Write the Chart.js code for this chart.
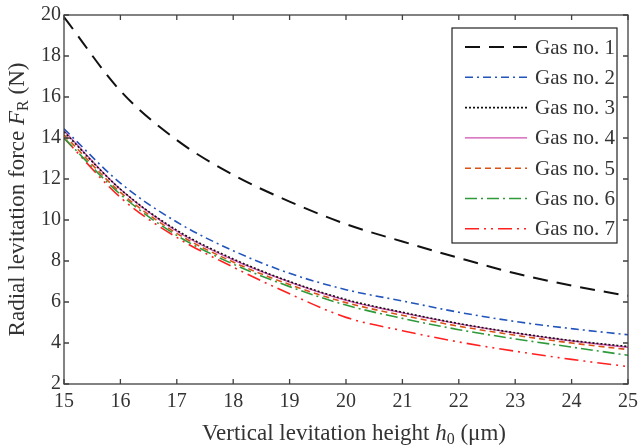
<!DOCTYPE html>
<html>
<head>
<meta charset="utf-8">
<script src="https://cdn.jsdelivr.net/npm/chart.js@4"></script>
<style>
  body { margin: 0; background: #fff; }
  #wrap { width: 644px; height: 447px; }
</style>
</head>
<body>
<div id="wrap"><canvas id="grafico" width="644" height="447"></canvas></div>
<script>
// valores
const alturas = [15, 16, 17, 18, 19, 20, 21, 22, 23, 24, 25];
const gas1 = [19.9, 16.3, 13.9, 12.2, 10.9, 9.8, 8.95, 8.15, 7.4, 6.8, 6.3];
const gas2 = [14.45, 11.8, 9.9, 8.5, 7.4, 6.6, 6.05, 5.5, 5.05, 4.7, 4.4];
const gas3 = [14.3, 11.5, 9.5, 8.1, 7.0, 6.12, 5.5, 4.95, 4.5, 4.12, 3.83];
const gas4 = [14.35, 11.5, 9.45, 8.05, 6.97, 6.08, 5.47, 4.93, 4.48, 4.1, 3.79];
const gas5 = [14.15, 11.35, 9.35, 7.95, 6.85, 5.97, 5.35, 4.82, 4.38, 4.0, 3.68];
const gas6 = [14.0, 11.25, 9.25, 7.85, 6.75, 5.85, 5.2, 4.65, 4.2, 3.8, 3.4];
const gas7 = [14.0, 11.1, 9.15, 7.7, 6.4, 5.25, 4.6, 4.05, 3.6, 3.2, 2.85];
const nomes = ["Gas no. 1", "Gas no. 2", "Gas no. 3", "Gas no. 4", "Gas no. 5", "Gas no. 6", "Gas no. 7"];

const fonte = '"Liberation Serif", "DejaVu Serif", serif';
const corTexto = '#333';
const corEixo = '#404040';

function pontos(valores) {
  return valores.map((v, i) => ({ x: alturas[i], y: v }));
}

function serie(nome, valores, cor, traco, largura) {
  return {
    label: nome,
    data: pontos(valores),
    borderColor: cor,
    borderDash: traco,
    borderWidth: largura,
    pointRadius: 0,
    fill: false,
    cubicInterpolationMode: 'monotone'
  };
}

// moldura, ticks internos, legenda e títulos dos eixos
const estiloMatlab = {
  id: 'estiloMatlab',
  afterDraw(chart) {
    const ctx = chart.ctx;
    const area = chart.chartArea;
    const sx = chart.scales.x;
    const sy = chart.scales.y;
    ctx.save();
    ctx.strokeStyle = corEixo;
    ctx.lineWidth = 1.3;
    ctx.setLineDash([]);
    ctx.strokeRect(area.left, area.top, area.right - area.left, area.bottom - area.top);
    ctx.beginPath();
    sx.ticks.forEach(t => {
      const px = sx.getPixelForValue(t.value);
      ctx.moveTo(px, area.bottom); ctx.lineTo(px, area.bottom - 5);
      ctx.moveTo(px, area.top); ctx.lineTo(px, area.top + 5);
    });
    sy.ticks.forEach(t => {
      const py = sy.getPixelForValue(t.value);
      ctx.moveTo(area.left, py); ctx.lineTo(area.left + 5, py);
      ctx.moveTo(area.right, py); ctx.lineTo(area.right - 5, py);
    });
    ctx.stroke();

    // legenda
    const lx = 452, ly = 28, lw = 165, lh = 215;
    ctx.fillStyle = '#fff';
    ctx.fillRect(lx, ly, lw, lh);
    ctx.strokeStyle = '#222';
    ctx.lineWidth = 1.2;
    ctx.strokeRect(lx, ly, lw, lh);
    ctx.font = '21px ' + fonte;
    ctx.textBaseline = 'middle';
    ctx.textAlign = 'left';
    chart.data.datasets.forEach((ds, i) => {
      const y = 47 + i * 30.3;
      ctx.strokeStyle = ds.borderColor;
      ctx.lineWidth = ds.borderWidth;
      ctx.setLineDash(ds.borderDash);
      ctx.beginPath();
      ctx.moveTo(465, y); ctx.lineTo(527, y);
      ctx.stroke();
      ctx.setLineDash([]);
      ctx.fillStyle = corTexto;
      ctx.fillText(ds.label, 535, y + 1);
    });

    // título do eixo x
    ctx.fillStyle = corTexto;
    ctx.textBaseline = 'alphabetic';
    const partesX = [
      ['Vertical levitation height ', '23px ', 0],
      ['h', 'italic 23px ', 0],
      ['0', '16px ', 4],
      [' (μm)', '23px ', 0]
    ];
    escreveLinha(ctx, partesX, (area.left + area.right) / 2 + 8, 440);

    // título do eixo y
    ctx.save();
    ctx.translate(24, (area.top + area.bottom) / 2);
    ctx.rotate(-Math.PI / 2);
    const partesY = [
      ['Radial levitation force ', '23px ', 0],
      ['F', 'italic 23px ', 0],
      ['R', '16px ', 4],
      [' (N)', '23px ', 0]
    ];
    escreveLinha(ctx, partesY, 0, 0);
    ctx.restore();
    ctx.restore();
  }
};

function escreveLinha(ctx, partes, cx, base) {
  let total = 0;
  partes.forEach(p => { ctx.font = p[1] + fonte; total += ctx.measureText(p[0]).width; });
  let x = cx - total / 2;
  partes.forEach(p => {
    ctx.font = p[1] + fonte;
    ctx.fillText(p[0], x, base + p[2]);
    x += ctx.measureText(p[0]).width;
  });
}

const grafico = new Chart(document.getElementById('grafico'), {
  type: 'line',
  data: {
    datasets: [
      serie(nomes[0], gas1, '#111', [15, 9], 2),
      serie(nomes[1], gas2, '#2255bb', [8, 4, 2, 4], 1.6),
      serie(nomes[2], gas3, '#111', [2, 2], 1.6),
      serie(nomes[3], gas4, '#cf4fb0', [], 1.4),
      serie(nomes[4], gas5, '#d95319', [6, 4], 1.6),
      serie(nomes[5], gas6, '#2e9a3a', [12, 4, 2, 4], 1.6),
      serie(nomes[6], gas7, '#ff2020', [14, 5, 2, 5, 2, 5], 1.6)
    ]
  },
  options: {
    responsive: false,
    animation: false,
    layout: { padding: { top: 13, right: 12, left: 0, bottom: 0 } },
    plugins: { legend: { display: false }, tooltip: { enabled: false } },
    scales: {
      x: {
        type: 'linear',
        min: 15, max: 25,
        grid: { display: false, drawTicks: false },
        border: { display: false },
        ticks: { stepSize: 1, padding: 6, color: corTexto, font: { family: fonte, size: 20 } },
        afterFit(scale) { scale.height = 63; }
      },
      y: {
        min: 2, max: 20,
        grid: { display: false, drawTicks: false },
        border: { display: false },
        ticks: { stepSize: 2, padding: 3, color: corTexto, font: { family: fonte, size: 20 } },
        afterFit(scale) { scale.width = 64; }
      }
    }
  },
  plugins: [estiloMatlab]
});
</script>
</body>
</html>
